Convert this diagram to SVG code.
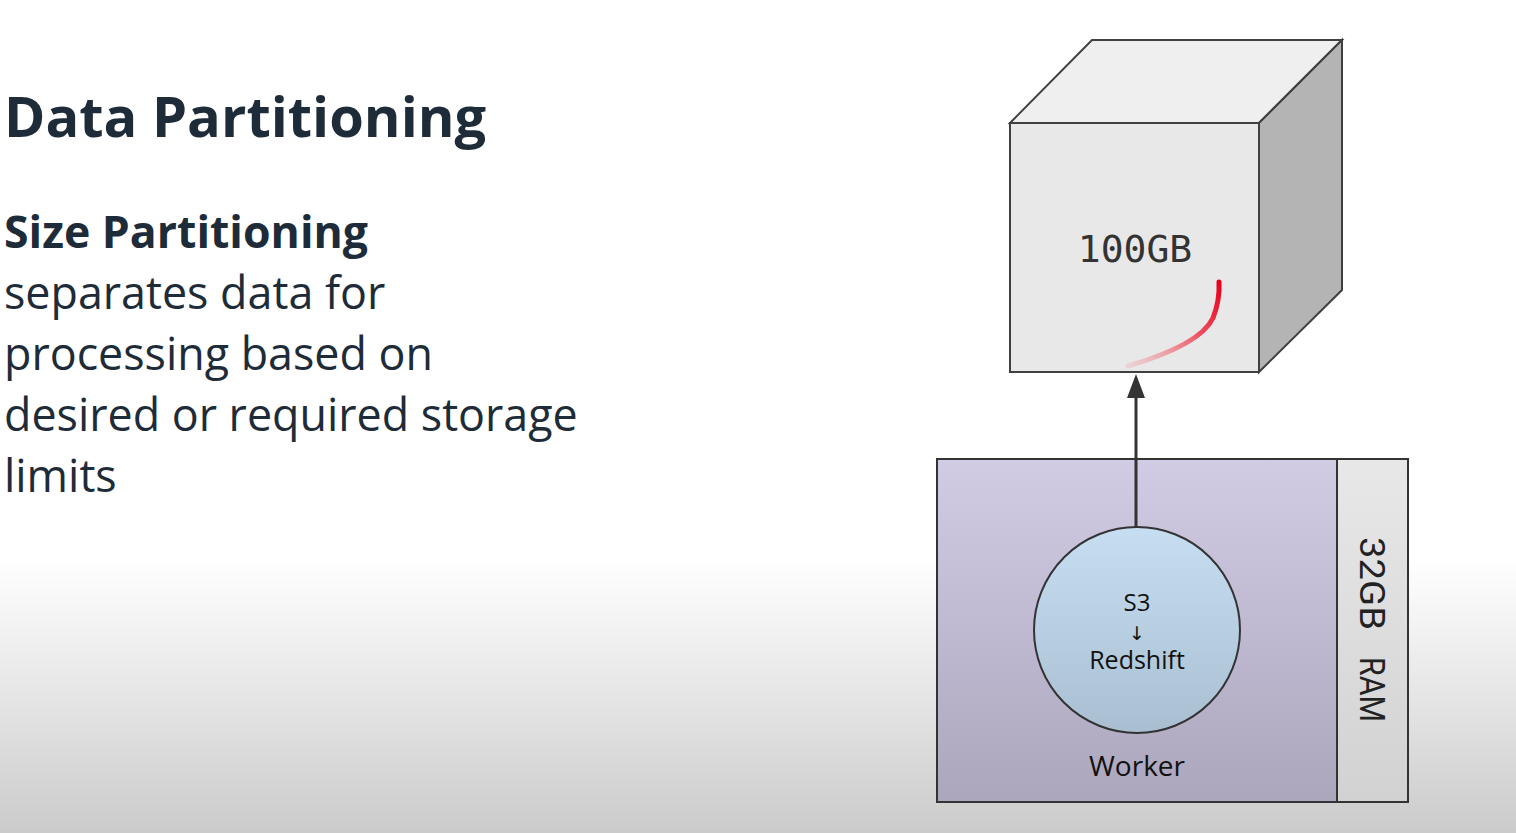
<svg xmlns="http://www.w3.org/2000/svg" width="1516" height="833" viewBox="0 0 1516 833">
<defs>
<linearGradient id="bg" x1="0" y1="0" x2="0" y2="833" gradientUnits="userSpaceOnUse">
<stop offset="0" stop-color="#ffffff"/>
<stop offset="0.67" stop-color="#ffffff"/>
<stop offset="0.75" stop-color="#f3f3f3"/>
<stop offset="0.87" stop-color="#e0e0e0"/>
<stop offset="1" stop-color="#cbcbcb"/>
</linearGradient>
<linearGradient id="worker" x1="0" y1="0" x2="0" y2="1">
<stop offset="0" stop-color="#d1cbe4"/>
<stop offset="1" stop-color="#aca6bd"/>
</linearGradient>
<linearGradient id="ram" x1="0" y1="0" x2="0" y2="1">
<stop offset="0" stop-color="#e8e8e8"/>
<stop offset="1" stop-color="#d2d2d2"/>
</linearGradient>
<linearGradient id="circ" x1="0" y1="0" x2="0" y2="1">
<stop offset="0" stop-color="#c7def2"/>
<stop offset="1" stop-color="#a9bfd1"/>
</linearGradient>
<linearGradient id="pen" x1="1128" y1="366" x2="1218" y2="282" gradientUnits="userSpaceOnUse">
<stop offset="0" stop-color="#f0a0a8" stop-opacity="0.3"/>
<stop offset="0.6" stop-color="#ee5060"/>
<stop offset="1" stop-color="#e8001c"/>
</linearGradient>
<marker id="arrow" viewBox="0 0 24 18" refX="0" refY="9" markerWidth="24" markerHeight="18" markerUnits="userSpaceOnUse" orient="auto">
<path d="M0,0 L24,9 L0,18 Z" fill="#333"/>
</marker>
<style>
.txt{font-family:"Open Sans","Noto Sans",sans-serif;fill:#1e2b38}
.edge{stroke:#404040;stroke-width:2}
.lbl{font-family:"Open Sans","Noto Sans",sans-serif;fill:#111}
.ram{font-family:Roboto,"Liberation Sans",sans-serif;font-weight:400;fill:#222;font-size:35px}
</style>
</defs>
<rect width="1516" height="833" fill="url(#bg)"/>
<g id="title">
<text class="txt" x="4" y="137" font-size="56" font-weight="700">Data Partitioning</text>
</g>
<g id="body">
<text class="txt" x="4" y="248" font-size="44.6" font-weight="700">Size Partitioning</text>
<text class="txt" x="4" y="309" font-size="44.8">separates data for</text>
<text class="txt" x="4" y="370" font-size="44.8">processing based on</text>
<text class="txt" x="4" y="431" font-size="44.8">desired or required storage</text>
<text class="txt" x="4" y="492" font-size="44.8">limits</text>
</g>
<g id="cube">
<polygon points="1010,123 1092,40 1342,40 1259,123" fill="#efefef" class="edge"/>
<polygon points="1259,123 1342,40 1342,290 1259,372" fill="#b4b4b4" class="edge"/>
<rect x="1010" y="123" width="249" height="249" fill="#e8e8e8" class="edge"/>
<text x="1135" y="262" font-family="'DejaVu Sans Mono',monospace" font-size="38" fill="#333" text-anchor="middle">100GB</text>
<path d="M1128,366 Q1200,345 1213,318 Q1220,300 1219,282" fill="none" stroke="url(#pen)" stroke-width="5" stroke-linecap="round"/>
</g>
<g id="worker-node">
<rect x="937" y="459" width="400" height="343" fill="url(#worker)" stroke="#333" stroke-width="2"/>
<rect x="1337" y="459" width="71" height="343" fill="url(#ram)" stroke="#333" stroke-width="2"/>
<g transform="rotate(90 1372 630)">
<text class="ram" x="1279" y="642" textLength="93" lengthAdjust="spacingAndGlyphs">32GB</text>
<text class="ram" x="1399" y="642" textLength="65" lengthAdjust="spacingAndGlyphs">RAM</text>
</g>
<text class="lbl" x="1137" y="776" font-size="28" text-anchor="middle">Worker</text>
</g>
<g id="connectors">
<line x1="1136" y1="527" x2="1136" y2="398" stroke="#333" stroke-width="3" marker-end="url(#arrow)"/>
</g>
<g id="s3-redshift">
<circle cx="1137" cy="630" r="103" fill="url(#circ)" stroke="#333" stroke-width="2"/>
<text class="lbl" x="1137" y="611" font-size="24" text-anchor="middle">S3</text>
<text x="1137" y="640" font-family="'DejaVu Sans',sans-serif" font-size="19" fill="#111" text-anchor="middle">↓</text>
<text class="lbl" x="1137" y="669" font-size="25" text-anchor="middle">Redshift</text>
</g>
</svg>
